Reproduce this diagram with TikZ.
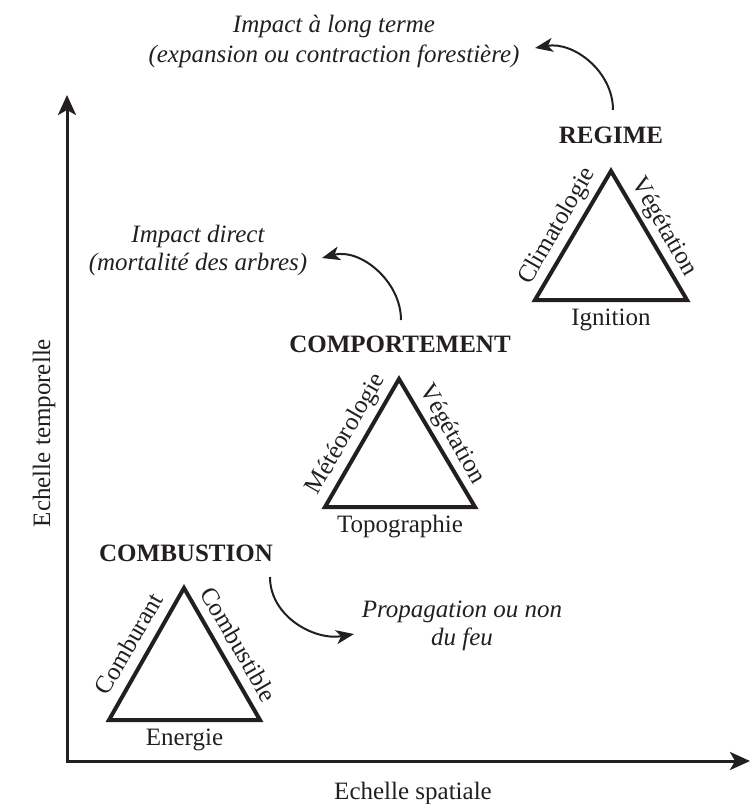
\documentclass[tikz,border=0pt]{standalone}
\usepackage{fontspec}
\setmainfont{Liberation Serif}
\usetikzlibrary{arrows.meta,calc}
\definecolor{ink}{HTML}{231F20}
\begin{document}
\begin{tikzpicture}[x=1pt,y=-1pt,
  lbl/.style={font=\fontsize{25}{30}\selectfont, text=ink, inner sep=0pt, anchor=base},
  ttl/.style={lbl, font=\fontsize{25}{30}\selectfont\bfseries},
  itl/.style={lbl, font=\fontsize{25}{30}\selectfont\itshape},
  tri/.style={draw=ink, line width=4pt, line join=miter},
  axis/.style={draw=ink, line width=3pt},
  flow/.style={draw=ink, line width=2pt, -{Stealth[length=18pt,width=14pt,inset=5pt]}}]
\useasboundingbox (0,0) rectangle (750,804);

% axes
\coordinate (ytop) at (67,95);
\coordinate (O) at (67,761);
\coordinate (xend) at (750,761);
\draw[axis, {Stealth[length=20pt,width=18pt,inset=5pt]}-{Stealth[length=20pt,width=18pt,inset=5pt]}] (ytop) -- (O) -- (xend);
\node[lbl] (xlab) at (413,799) {Echelle spatiale};
\node[lbl, rotate=90] (ylab) at (50,433) {Echelle temporelle};

% COMBUSTION
\coordinate (cbL) at (109,720);
\coordinate (cbT) at (184,588);
\coordinate (cbR) at (260,720);
\draw[tri] (cbL) -- (cbT) -- (cbR) -- cycle;
\path (cbL) -- (cbT) coordinate[pos=0.5] (cbml);
\path (cbT) -- (cbR) coordinate[pos=0.5] (cbmr);
\node[lbl, rotate=60] (cbleft) at ($(cbml)!12pt!90:(cbT)$) {Comburant};
\node[lbl, rotate=-60] (cbright) at ($(cbmr)!11pt!90:(cbR)$) {Combustible};
\node[lbl] (cbbase) at ($(cbL)!0.5!(cbR)+(0,25)$) {Energie};
\node[ttl] (cb) at (186,561) {COMBUSTION};

% COMPORTEMENT
\coordinate (cpL) at (325,507);
\coordinate (cpT) at (399,379);
\coordinate (cpR) at (475,507);
\draw[tri] (cpL) -- (cpT) -- (cpR) -- cycle;
\path (cpL) -- (cpT) coordinate[pos=0.5] (cpml);
\path (cpT) -- (cpR) coordinate[pos=0.5] (cpmr);
\node[lbl, rotate=60] (cpleft) at ($(cpml)!12pt!90:(cpT)$) {Météorologie};
\node[lbl, rotate=-60] (cpright) at ($(cpmr)!11pt!90:(cpR)$) {Végétation};
\node[lbl] (cpbase) at ($(cpL)!0.5!(cpR)+(0,25)$) {Topographie};
\node[ttl] (cp) at (400,352) {COMPORTEMENT};

% REGIME
\coordinate (rgL) at (535,300);
\coordinate (rgT) at (611,171);
\coordinate (rgR) at (687,300);
\draw[tri] (rgL) -- (rgT) -- (rgR) -- cycle;
\path (rgL) -- (rgT) coordinate[pos=0.5] (rgml);
\path (rgT) -- (rgR) coordinate[pos=0.5] (rgmr);
\node[lbl, rotate=60] (rgleft) at ($(rgml)!12pt!90:(rgT)$) {Climatologie};
\node[lbl, rotate=-60] (rgright) at ($(rgmr)!11pt!90:(rgR)$) {Végétation};
\node[lbl] (rgbase) at ($(rgL)!0.5!(rgR)+(0,25)$) {Ignition};
\node[ttl] (rg) at (611,143) {REGIME};

% effects
\node[itl] (lt1) at (334,32) {Impact à long terme};
\node[itl] (lt2) at (334,62) {(expansion ou contraction forestière)};
\node[itl] (di1) at (198,242) {Impact direct};
\node[itl] (di2) at (198,270) {(mortalité des arbres)};
\node[itl] (pr1) at (462,617) {Propagation ou non};
\node[itl] (pr2) at (462,645) {du feu};

% curved arrows
\coordinate (rgs) at (613,110);
\coordinate (rgt) at (535,48);
\draw[flow] (rgs) to[out=90,in=10] (rgt);
\coordinate (cps) at (401,320);
\coordinate (cpt) at (322,258);
\draw[flow] (cps) to[out=90,in=15] (cpt);
\coordinate (cbs) at (270,577);
\coordinate (cbt) at (354,634);
\draw[flow] (cbs) to[out=-90,in=190] (cbt);
\end{tikzpicture}
\end{document}
